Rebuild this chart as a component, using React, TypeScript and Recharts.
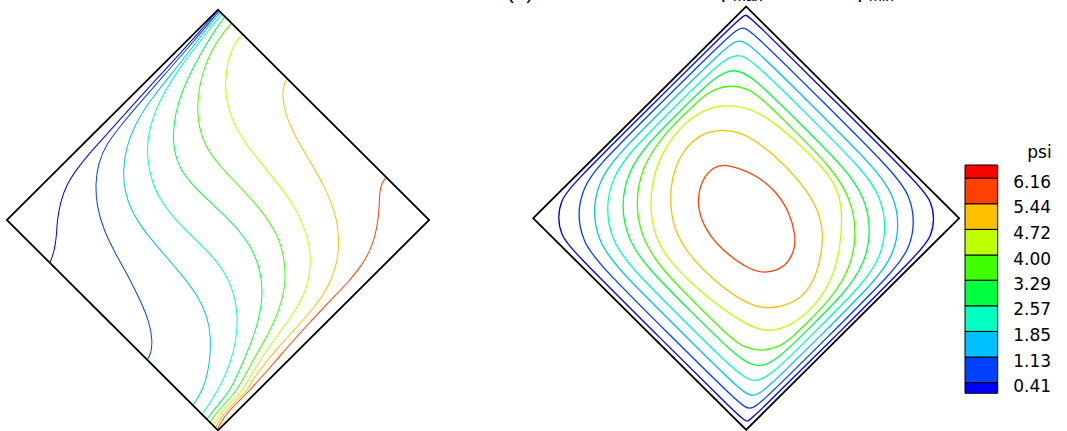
import React from 'react';
import { ScatterChart, Scatter, XAxis, YAxis, ComposedChart, ReferenceArea } from 'recharts';

type Pt = [number, number];

// Contour levels (psi) and the colour of each level line
const levels = [0.41, 1.13, 1.85, 2.57, 3.29, 4.0, 4.72, 5.44, 6.16];
const levelColors = ['#0000ff', '#0040ff', '#00c0ff', '#00ffc0', '#00ff40', '#40ff00', '#c0ff00', '#ffc000', '#ff4000'];

// Colour bar: value range and band colours (bottom to top)
const legendMin = 0.11;
const legendMax = 6.53;
const bandColors = ['#0000ff', '#0040ff', '#00c0ff', '#00ffc0', '#00ff40', '#40ff00', '#c0ff00', '#ffc000', '#ff4000', '#ff0000'];

// Cavity walls in cavity coordinates (unit square, drawn rotated by 45 degrees)
const wall: Pt[] = [[0, 0], [0, 1], [1, 1], [1, 0]];

// Panel (a): open iso-lines running from the top wall to the bottom wall
const aLine1: Pt[] = [[0.001, 0.998], [0.009, 0.908], [0.014, 0.808], [0.019, 0.691], [0.025, 0.575], [0.032, 0.458], [0.036, 0.367], [0.044, 0.288], [0.058, 0.223], [0.084, 0.17], [0.12, 0.118], [0.158, 0.077], [0.188, 0.036], [0.203, 0.002]];
const aLine2: Pt[] = [[0.006, 0.998], [0.013, 0.918], [0.019, 0.849], [0.027, 0.731], [0.035, 0.612], [0.044, 0.502], [0.055, 0.415], [0.082, 0.35], [0.123, 0.296], [0.182, 0.244], [0.254, 0.205], [0.337, 0.177], [0.424, 0.153], [0.507, 0.125], [0.58, 0.095], [0.631, 0.059], [0.659, 0.024], [0.665, 0.0]];
const aLine3: Pt[] = [[0.012, 0.998], [0.017, 0.931], [0.031, 0.838], [0.043, 0.731], [0.055, 0.624], [0.075, 0.533], [0.109, 0.456], [0.157, 0.393], [0.208, 0.349], [0.271, 0.317], [0.348, 0.299], [0.451, 0.291], [0.554, 0.283], [0.637, 0.271], [0.706, 0.245], [0.761, 0.205], [0.815, 0.148], [0.859, 0.081], [0.873, 0.039], [0.88, 0.004]];
const aLine4: Pt[] = [[0.02, 0.998], [0.025, 0.939], [0.035, 0.865], [0.047, 0.774], [0.067, 0.683], [0.095, 0.601], [0.136, 0.531], [0.182, 0.482], [0.247, 0.436], [0.328, 0.406], [0.431, 0.398], [0.546, 0.402], [0.634, 0.395], [0.714, 0.364], [0.778, 0.317], [0.829, 0.257], [0.871, 0.188], [0.902, 0.108], [0.918, 0.037], [0.924, 0.0]];
const aLine5: Pt[] = [[0.033, 0.998], [0.043, 0.937], [0.063, 0.854], [0.09, 0.77], [0.122, 0.691], [0.166, 0.624], [0.212, 0.575], [0.269, 0.537], [0.348, 0.521], [0.455, 0.525], [0.561, 0.528], [0.656, 0.512], [0.73, 0.475], [0.789, 0.423], [0.835, 0.358], [0.872, 0.284], [0.904, 0.205], [0.934, 0.124], [0.938, 0.081], [0.942, 0.037], [0.947, 0.0]];
const aLine6: Pt[] = [[0.064, 0.998], [0.07, 0.932], [0.09, 0.865], [0.12, 0.8], [0.167, 0.736], [0.215, 0.689], [0.284, 0.647], [0.379, 0.631], [0.498, 0.631], [0.609, 0.623], [0.696, 0.599], [0.763, 0.555], [0.819, 0.5], [0.86, 0.431], [0.89, 0.35], [0.91, 0.275], [0.928, 0.213], [0.95, 0.14], [0.952, 0.095], [0.954, 0.049], [0.958, 0.021], [0.962, 0.002]];
const aLine7: Pt[] = [[0.115, 0.998], [0.122, 0.952], [0.144, 0.903], [0.185, 0.849], [0.235, 0.804], [0.296, 0.77], [0.383, 0.746], [0.498, 0.734], [0.613, 0.722], [0.711, 0.694], [0.792, 0.648], [0.854, 0.583], [0.89, 0.508], [0.906, 0.429], [0.918, 0.346], [0.93, 0.279], [0.946, 0.215], [0.964, 0.154], [0.964, 0.107], [0.964, 0.059], [0.972, 0.027], [0.975, 0.004]];
const aLine8: Pt[] = [[0.327, 0.999], [0.335, 0.975], [0.36, 0.945], [0.406, 0.912], [0.485, 0.88], [0.588, 0.856], [0.699, 0.824], [0.784, 0.782], [0.844, 0.731], [0.892, 0.669], [0.925, 0.591], [0.937, 0.508], [0.942, 0.417], [0.946, 0.334], [0.953, 0.262], [0.961, 0.207], [0.974, 0.164], [0.973, 0.116], [0.972, 0.067], [0.978, 0.033], [0.987, 0.003]];
const aLine9: Pt[] = [[0.797, 0.998], [0.8, 0.976], [0.816, 0.949], [0.851, 0.913], [0.894, 0.861], [0.929, 0.801], [0.949, 0.733], [0.957, 0.654], [0.957, 0.567], [0.961, 0.476], [0.965, 0.385], [0.973, 0.29], [0.977, 0.223], [0.98, 0.17], [0.98, 0.123], [0.98, 0.075], [0.984, 0.039], [0.995, 0.005]];

// Panel (b): closed streamlines psi = const, outermost first
const bLoop1: Pt[] = [[0.012, 0.5], [0.012, 0.965], [0.018, 0.979], [0.032, 0.985], [0.45, 0.985], [0.838, 0.985], [0.895, 0.974], [0.944, 0.941], [0.977, 0.892], [0.988, 0.835], [0.988, 0.45], [0.988, 0.035], [0.982, 0.021], [0.968, 0.015], [0.55, 0.015], [0.162, 0.015], [0.105, 0.026], [0.056, 0.059], [0.023, 0.108], [0.012, 0.165]];
const bLoop2: Pt[] = [[0.028, 0.5], [0.028, 0.915], [0.04, 0.943], [0.068, 0.955], [0.4, 0.955], [0.742, 0.955], [0.83, 0.938], [0.905, 0.888], [0.955, 0.813], [0.972, 0.725], [0.972, 0.4], [0.972, 0.085], [0.96, 0.057], [0.932, 0.045], [0.6, 0.045], [0.258, 0.045], [0.17, 0.063], [0.095, 0.112], [0.046, 0.187], [0.028, 0.275]];
const bLoop3: Pt[] = [[0.048, 0.55], [0.048, 0.871], [0.063, 0.906], [0.098, 0.921], [0.4, 0.921], [0.692, 0.921], [0.792, 0.901], [0.876, 0.845], [0.932, 0.761], [0.952, 0.661], [0.952, 0.4], [0.952, 0.129], [0.937, 0.094], [0.902, 0.079], [0.6, 0.079], [0.308, 0.079], [0.208, 0.099], [0.124, 0.155], [0.068, 0.239], [0.048, 0.339]];
const bLoop4: Pt[] = [[0.07, 0.6], [0.07, 0.818], [0.091, 0.868], [0.14, 0.888], [0.4, 0.888], [0.66, 0.888], [0.763, 0.868], [0.851, 0.809], [0.91, 0.721], [0.93, 0.618], [0.93, 0.4], [0.93, 0.182], [0.909, 0.133], [0.86, 0.112], [0.6, 0.112], [0.34, 0.112], [0.237, 0.133], [0.149, 0.191], [0.091, 0.279], [0.07, 0.382]];
const bLoop5: Pt[] = [[0.092, 0.6], [0.092, 0.765], [0.117, 0.825], [0.177, 0.85], [0.4, 0.85], [0.618, 0.85], [0.729, 0.828], [0.823, 0.765], [0.886, 0.671], [0.908, 0.56], [0.908, 0.4], [0.908, 0.235], [0.883, 0.175], [0.823, 0.15], [0.6, 0.15], [0.382, 0.15], [0.271, 0.172], [0.177, 0.235], [0.114, 0.329], [0.092, 0.44]];
const bLoop6: Pt[] = [[0.11, 0.59], [0.11, 0.68], [0.121, 0.734], [0.151, 0.779], [0.196, 0.809], [0.25, 0.82], [0.41, 0.82], [0.57, 0.82], [0.693, 0.796], [0.796, 0.726], [0.866, 0.623], [0.89, 0.5], [0.89, 0.41], [0.89, 0.32], [0.879, 0.266], [0.849, 0.221], [0.804, 0.191], [0.75, 0.18], [0.59, 0.18], [0.43, 0.18], [0.307, 0.204], [0.204, 0.274], [0.134, 0.377], [0.11, 0.5]];
const bLoop7: Pt[] = [[0.187, 0.722], [0.249, 0.769], [0.335, 0.792], [0.469, 0.8], [0.579, 0.799], [0.661, 0.779], [0.73, 0.722], [0.795, 0.645], [0.842, 0.566], [0.866, 0.48], [0.866, 0.386], [0.843, 0.315], [0.808, 0.273], [0.741, 0.245], [0.608, 0.222], [0.459, 0.215], [0.349, 0.231], [0.262, 0.286], [0.188, 0.369], [0.144, 0.467], [0.128, 0.577], [0.147, 0.667]];
const bLoop8: Pt[] = [[0.221, 0.641], [0.281, 0.69], [0.355, 0.709], [0.473, 0.717], [0.575, 0.709], [0.661, 0.685], [0.725, 0.638], [0.773, 0.576], [0.811, 0.504], [0.819, 0.433], [0.784, 0.359], [0.745, 0.32], [0.678, 0.292], [0.568, 0.277], [0.443, 0.278], [0.348, 0.309], [0.286, 0.357], [0.226, 0.423], [0.191, 0.514], [0.194, 0.588]];
const bLoop9: Pt[] = [[0.326, 0.583], [0.422, 0.627], [0.508, 0.634], [0.591, 0.615], [0.66, 0.573], [0.689, 0.539], [0.709, 0.481], [0.679, 0.416], [0.631, 0.387], [0.552, 0.371], [0.458, 0.371], [0.387, 0.395], [0.342, 0.429], [0.305, 0.486], [0.301, 0.545]];

const panelA = [aLine1, aLine2, aLine3, aLine4, aLine5, aLine6, aLine7, aLine8, aLine9];
const panelB = [bLoop1, bLoop2, bLoop3, bLoop4, bLoop5, bLoop6, bLoop7, bLoop8, bLoop9];

const bandEdges = [legendMin, ...levels, legendMax];
const legendFrame = [{ x: 0, y: legendMin }, { x: 1, y: legendMax }];

const PAD = 5;
const toRows = (pts: Pt[]) => pts.map(([x, y]) => ({ x, y }));
const NoMarker = () => <g />;

type CavityProps = {
  side: number;
  lines: Pt[][];
  closed: boolean;
  lineWidth: number;
  cx: number;
  cy: number;
  sx: number;
  sy: number;
};

function CavityPanel({ side, lines, closed, lineWidth, cx, cy, sx, sy }: CavityProps) {
  const box = side + 2 * PAD;
  return (
    <div
      style={{
        position: 'absolute',
        left: cx - box / 2,
        top: cy - box / 2,
        width: box,
        height: box,
        transform: `scale(${sx}, ${sy}) rotate(45deg)`,
        transformOrigin: '50% 50%',
      }}
    >
      <ScatterChart width={box} height={box} margin={{ top: PAD, right: PAD, bottom: PAD, left: PAD }}>
        <XAxis type="number" dataKey="x" domain={[0, 1]} hide />
        <YAxis type="number" dataKey="y" domain={[0, 1]} hide />
        {lines.map((pts, i) => (
          <Scatter
            key={i}
            data={toRows(pts)}
            fill={levelColors[i]}
            line={{ stroke: levelColors[i], strokeWidth: lineWidth }}
            lineJointType={closed ? 'basisClosed' : 'basis'}
            shape={NoMarker}
            isAnimationActive={false}
          />
        ))}
        <Scatter
          data={toRows(wall)}
          fill="#000"
          line={{ stroke: '#000', strokeWidth: 1.8 }}
          lineJointType="linearClosed"
          shape={NoMarker}
          isAnimationActive={false}
        />
      </ScatterChart>
    </div>
  );
}

function LegendTick(props: any) {
  const { x, y, payload } = props;
  return (
    <text x={x} y={y + 9.6} fontFamily="DejaVu Sans" fontSize={17} fill="#000" textAnchor="start">
      {Number(payload.value).toFixed(2)}
    </text>
  );
}

export default function App() {
  return (
    <div style={{ position: 'absolute', left: 0, top: 0, width: 1067, height: 431, background: '#fff', overflow: 'hidden' }}>
      <CavityPanel side={298} lines={panelA} closed={false} lineWidth={1.0} cx={217.85} cy={219.65} sx={1.002} sy={0.998} />
      <CavityPanel side={300.3} lines={panelB} closed={true} lineWidth={1.3} cx={746.3} cy={218.35} sx={1.003} sy={0.997} />

      <div style={{ position: 'absolute', left: 960, top: 160 }}>
        <ComposedChart width={92.7} height={238.3} data={legendFrame} margin={{ top: 5, right: 0, bottom: 5, left: 5 }}>
          <XAxis type="number" dataKey="x" domain={[0, 1]} hide />
          <YAxis
            type="number"
            dataKey="y"
            orientation="right"
            domain={[legendMin, legendMax]}
            ticks={levels}
            interval={0}
            width={55}
            tickSize={0}
            tickMargin={15.6}
            axisLine={false}
            tickLine={false}
            tick={LegendTick}
          />
          {bandColors.map((c, i) => (
            <ReferenceArea
              key={i}
              x1={0}
              x2={1}
              y1={bandEdges[i]}
              y2={bandEdges[i + 1]}
              fill={c}
              fillOpacity={1}
              stroke="#000"
              strokeWidth={1}
            />
          ))}
        </ComposedChart>
      </div>

      <svg width={1067} height={431} style={{ position: 'absolute', left: 0, top: 0, pointerEvents: 'none' }}>
        <text x={1051.7} y={157.5} textAnchor="end" fontFamily="DejaVu Sans" fontSize={17} fill="#000">psi</text>
        <text x={506.6} y={-1.9} fontFamily="Liberation Sans" fontSize={22} fill="#000">(b)</text>
        <text x={715.5} y={-3} fontFamily="Liberation Sans" fontSize={22} fill="#000">ψ</text>
        <text x={733} y={1} fontFamily="Liberation Sans" fontSize={15.4} fill="#000">max</text>
        <text x={852} y={-3} fontFamily="Liberation Sans" fontSize={22} fill="#000">ψ</text>
        <text x={869} y={1} fontFamily="Liberation Sans" fontSize={15.4} fill="#000">min</text>
      </svg>
    </div>
  );
}
